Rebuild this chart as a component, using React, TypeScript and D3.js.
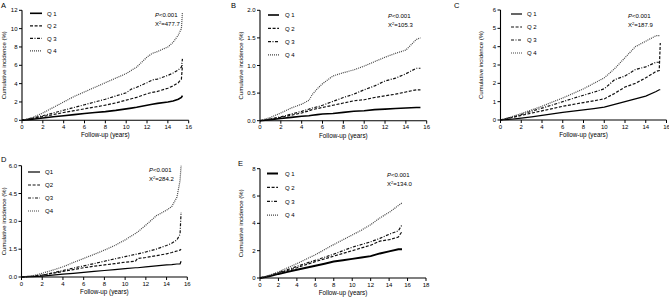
import React from "react";
import * as d3 from "d3";

// ---------- DATA ----------
const seriesNames = ["Q1", "Q2", "Q3", "Q4"];

// Panel A
const aYears = [0, 1, 2, 3, 4, 5, 6, 7, 8, 9, 10, 10.5, 11, 12, 12.5, 13, 14, 14.5, 15, 15.3, 15.4];
const aQ1 = [0, 0.12, 0.25, 0.38, 0.5, 0.62, 0.75, 0.85, 0.95, 1.08, 1.25, 1.33, 1.42, 1.65, 1.75, 1.85, 2.0, 2.1, 2.3, 2.5, 2.7];
const aQ2 = [0, 0.2, 0.4, 0.62, 0.85, 1.05, 1.25, 1.45, 1.65, 1.9, 2.2, 2.35, 2.5, 2.9, 3.05, 3.15, 3.5, 3.75, 4.1, 4.5, 6.0];
const aQ3 = [0, 0.25, 0.5, 0.8, 1.1, 1.4, 1.7, 2.0, 2.3, 2.65, 3.0, 3.4, 3.6, 4.1, 4.4, 4.5, 4.9, 5.15, 5.5, 5.8, 6.7];
const aQ4 = [0, 0.3, 0.8, 1.4, 2.0, 2.6, 3.1, 3.6, 4.1, 4.6, 5.1, 5.45, 5.8, 6.9, 7.3, 7.5, 8.0, 8.5, 9.3, 10.0, 11.8];

// Panel B
const bYears = [0, 1, 2, 3, 4, 4.7, 5, 5.5, 6, 7, 8, 9, 10, 11, 12, 13, 14, 15, 15.4];
const bQ1 = [0, 0.02, 0.04, 0.06, 0.08, 0.09, 0.1, 0.11, 0.12, 0.13, 0.15, 0.17, 0.18, 0.2, 0.21, 0.22, 0.23, 0.24, 0.24];
const bQ2 = [0, 0.03, 0.06, 0.1, 0.14, 0.18, 0.2, 0.22, 0.24, 0.28, 0.32, 0.36, 0.38, 0.42, 0.45, 0.48, 0.52, 0.56, 0.56];
const bQ3 = [0, 0.03, 0.07, 0.12, 0.17, 0.21, 0.23, 0.25, 0.28, 0.35, 0.42, 0.48, 0.56, 0.63, 0.72, 0.77, 0.85, 0.95, 0.95];
const bQ4 = [0, 0.06, 0.14, 0.23, 0.3, 0.37, 0.47, 0.58, 0.67, 0.81, 0.87, 0.92, 0.99, 1.07, 1.15, 1.22, 1.28, 1.47, 1.5];

// Panel C
const cYears = [0, 1, 2, 3, 4, 5, 6, 7, 8, 9, 10, 11, 12, 13, 14, 15, 15.3, 15.4];
const cQ1 = [0, 0.04, 0.1, 0.17, 0.25, 0.33, 0.42, 0.48, 0.55, 0.62, 0.7, 0.85, 1.0, 1.15, 1.3, 1.55, 1.65, 1.65];
const cQ2 = [0, 0.12, 0.25, 0.38, 0.5, 0.62, 0.75, 0.85, 0.95, 1.05, 1.15, 1.45, 1.8, 2.0, 2.3, 2.65, 2.7, 4.2];
const cQ3 = [0, 0.14, 0.3, 0.48, 0.65, 0.82, 1.0, 1.18, 1.35, 1.52, 1.7, 2.2, 2.4, 2.75, 2.9, 3.15, 3.15, 3.15];
const cQ4 = [0, 0.16, 0.35, 0.55, 0.75, 0.98, 1.2, 1.45, 1.7, 2.0, 2.3, 2.8, 3.4, 4.0, 4.3, 4.6, 4.6, 4.6];

// Panel D
const dYears = [0, 1, 2, 3, 4, 5, 6, 7, 8, 9, 10, 11, 11.2, 12, 13, 14, 14.5, 15, 15.3, 15.4];
const dQ1 = [0, 0.02, 0.05, 0.1, 0.15, 0.2, 0.25, 0.3, 0.35, 0.4, 0.45, 0.5, 0.5, 0.55, 0.6, 0.65, 0.67, 0.7, 0.7, 0.85];
const dQ2 = [0, 0.04, 0.1, 0.2, 0.3, 0.4, 0.5, 0.58, 0.65, 0.72, 0.8, 0.85, 1.0, 1.05, 1.15, 1.25, 1.32, 1.4, 1.45, 1.5];
const dQ3 = [0, 0.04, 0.1, 0.22, 0.35, 0.48, 0.6, 0.72, 0.85, 0.98, 1.1, 1.22, 1.24, 1.35, 1.5, 1.7, 1.82, 2.0, 2.3, 3.5];
const dQ4 = [0, 0.06, 0.2, 0.37, 0.55, 0.78, 1.0, 1.22, 1.45, 1.7, 2.0, 2.35, 2.42, 2.8, 3.3, 3.6, 3.8, 4.3, 5.2, 6.0];

// Panel E
const eYears = [0, 1, 2, 3, 4, 5, 6, 7, 8, 9, 10, 11, 12, 13, 14, 15, 15.4];
const eQ1 = [0, 0.12, 0.3, 0.45, 0.6, 0.75, 0.9, 1.05, 1.2, 1.3, 1.4, 1.5, 1.6, 1.8, 1.95, 2.1, 2.1];
const eQ2 = [0, 0.15, 0.35, 0.55, 0.75, 0.98, 1.2, 1.4, 1.6, 1.8, 2.0, 2.2, 2.4, 2.7, 2.8, 3.0, 3.4];
const eQ3 = [0, 0.17, 0.4, 0.62, 0.85, 1.08, 1.3, 1.52, 1.75, 2.0, 2.25, 2.45, 2.65, 2.9, 3.2, 3.45, 3.9];
const eQ4 = [0, 0.2, 0.45, 0.75, 1.05, 1.38, 1.7, 2.08, 2.45, 2.8, 3.15, 3.5, 3.9, 4.4, 4.8, 5.3, 5.5];

const stats = [
  { p: "P<0.001", chi: "=477.7" },
  { p: "P<0.001", chi: "=105.3" },
  { p: "P<0.001", chi: "=187.9" },
  { p: "P<0.001", chi: "=284.2" },
  { p: "P<0.001", chi: "=134.0" },
];

// ---------- LAYOUT ----------
type Panel = {
  letter: string;
  years: number[];
  series: number[][];
  xMax: number;
  yMax: number;
  yStep: number;
  yFmt: string;
  xr: [number, number];
  yr: [number, number];
  letterPos: [number, number];
  legend: { x0: number; x1: number; tx: number; y0: number; dy: number; spaced: boolean };
  stat: { x: number; y: number };
  yTitleX: number;
  q1Width: number;
};

const panels: Panel[] = [
  {
    letter: "A", years: aYears, series: [aQ1, aQ2, aQ3, aQ4], xMax: 16, yMax: 12, yStep: 2, yFmt: "d",
    xr: [22, 188.7], yr: [120.3, 10.3], letterPos: [1, 8],
    legend: { x0: 30, x1: 42, tx: 47, y0: 13.3, dy: 12.5, spaced: true },
    stat: { x: 155, y: 17 }, yTitleX: 6, q1Width: 1.6,
  },
  {
    letter: "B", years: bYears, series: [bQ1, bQ2, bQ3, bQ4], xMax: 16, yMax: 2, yStep: 0.5, yFmt: ".1f",
    xr: [260, 426.7], yr: [120.7, 10.3], letterPos: [231, 8],
    legend: { x0: 268, x1: 279, tx: 285, y0: 15, dy: 13.3, spaced: true },
    stat: { x: 388, y: 18 }, yTitleX: 243, q1Width: 1.6,
  },
  {
    letter: "C", years: cYears, series: [cQ1, cQ2, cQ3, cQ4], xMax: 16, yMax: 6, yStep: 1, yFmt: "d",
    xr: [500.5, 666.5], yr: [120, 10], letterPos: [454, 8],
    legend: { x0: 511, x1: 522, tx: 527, y0: 14, dy: 13, spaced: true },
    stat: { x: 628, y: 18 }, yTitleX: 483, q1Width: 1.2,
  },
  {
    letter: "D", years: dYears, series: [dQ1, dQ2, dQ3, dQ4], xMax: 16, yMax: 6, yStep: 1.5, yFmt: ".1f",
    xr: [21.5, 187.3], yr: [277, 165.7], letterPos: [1, 162],
    legend: { x0: 28, x1: 40, tx: 45, y0: 172, dy: 13, spaced: false },
    stat: { x: 149, y: 172 }, yTitleX: 6, q1Width: 1.2,
  },
  {
    letter: "E", years: eYears, series: [eQ1, eQ2, eQ3, eQ4], xMax: 18, yMax: 8, yStep: 2, yFmt: "d",
    xr: [260, 426], yr: [278, 168.7], letterPos: [238, 166],
    legend: { x0: 267, x1: 278, tx: 285, y0: 173.5, dy: 13.9, spaced: true },
    stat: { x: 387, y: 177 }, yTitleX: 243, q1Width: 2,
  },
];

const dashes = ["none", "3,1.6", "3,1.5,1,1.5", "1,1"];
const colors = ["#000", "#111", "#111", "#444"];
const FONT = "'Liberation Sans', Arial, sans-serif";

function PanelChart({ p, s }: { p: Panel; s: { p: string; chi: string } }) {
  const x = d3.scaleLinear().domain([0, p.xMax]).range(p.xr);
  const y = d3.scaleLinear().domain([0, p.yMax]).range(p.yr);
  const xTicks = d3.range(0, p.xMax + 0.001, 2);
  const yTicks = d3.range(0, p.yMax + 0.001, p.yStep);
  const fmt = d3.format(p.yFmt);
  const line = d3
    .line<number>()
    .x((_, i) => x(p.years[i]))
    .y((v) => y(v))
    .curve(d3.curveLinear);
  const x0 = p.xr[0];
  const y0 = p.yr[0];
  const midY = (p.yr[0] + p.yr[1]) / 2;
  return (
    <g fontFamily={FONT}>
      <text x={p.letterPos[0]} y={p.letterPos[1]} fontSize={7.5}>{p.letter}</text>
      {p.series.map((vals, i) => (
        <path
          key={i}
          d={line(vals) || ""}
          fill="none"
          stroke={colors[i]}
          strokeWidth={i === 0 ? p.q1Width : 1.2}
          strokeDasharray={dashes[i]}
        />
      ))}
      <line x1={x0} x2={p.xr[1]} y1={y0} y2={y0} stroke="#000" strokeWidth={1.1} />
      <line x1={x0} x2={x0} y1={y0} y2={p.yr[1]} stroke="#000" strokeWidth={1.1} />
      {xTicks.map((t) => (
        <g key={"x" + t}>
          <line x1={x(t)} x2={x(t)} y1={y0} y2={y0 + 3} stroke="#000" strokeWidth={1} />
          <text x={x(t)} y={y0 + 8.5} fontSize={6} textAnchor="middle">{t}</text>
        </g>
      ))}
      {yTicks.map((t) => (
        <g key={"y" + t}>
          <line x1={x0 - 3} x2={x0} y1={y(t)} y2={y(t)} stroke="#000" strokeWidth={1} />
          <text x={x0 - 4.5} y={y(t) + 2} fontSize={6} textAnchor="end">{fmt(t)}</text>
        </g>
      ))}
      <text x={(p.xr[0] + p.xr[1]) / 2} y={y0 + 17} fontSize={6.3} textAnchor="middle">Follow-up (years)</text>
      <text
        transform={`translate(${p.yTitleX},${midY}) rotate(-90)`}
        fontSize={6}
        textAnchor="middle"
      >Cumulative incidence (%)</text>
      {seriesNames.map((n, i) => {
        const ly = p.legend.y0 + i * p.legend.dy;
        return (
          <g key={n}>
            <line
              x1={p.legend.x0}
              x2={p.legend.x1}
              y1={ly}
              y2={ly}
              stroke={colors[i]}
              strokeWidth={i === 0 ? p.q1Width : 1.2}
              strokeDasharray={dashes[i]}
            />
            <text x={p.legend.tx} y={ly + 2.2} fontSize={6}>
              {p.legend.spaced ? n.replace("Q", "Q ") : n}
            </text>
          </g>
        );
      })}
      <text x={p.stat.x} y={p.stat.y} fontSize={6}>
        <tspan fontStyle="italic">P</tspan>
        <tspan>{s.p.slice(1)}</tspan>
      </text>
      <text x={p.stat.x} y={p.stat.y + 9} fontSize={6}>
        <tspan>X</tspan>
        <tspan fontSize={4} dy={-2.5}>2</tspan>
        <tspan dy={2.5}>{s.chi}</tspan>
      </text>
    </g>
  );
}

export default function App() {
  return (
    <svg width={669} height={301} style={{ position: "absolute", left: 0, top: 0, background: "#fff" }}>
      <rect width={669} height={301} fill="#fff" />
      {panels.map((p, i) => (
        <PanelChart key={p.letter} p={p} s={stats[i]} />
      ))}
    </svg>
  );
}
